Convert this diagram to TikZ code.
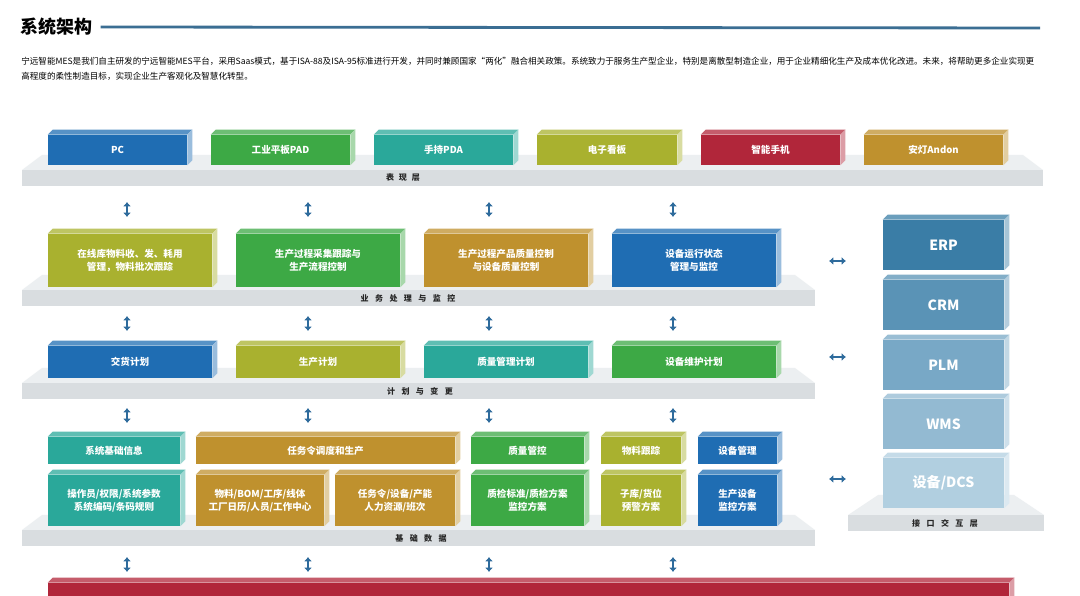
\documentclass[tikz,border=0pt]{standalone}
\usepackage{fontspec}
\setmainfont{Noto Sans CJK SC}
\usetikzlibrary{arrows.meta,fit}
\XeTeXlinebreaklocale "zh"
\XeTeXlinebreakskip=0pt plus 1pt

\definecolor{mesblue}{HTML}{1F6DB3}
\definecolor{mesgreen}{HTML}{3DA945}
\definecolor{mesteal}{HTML}{2AA89A}
\definecolor{mesolive}{HTML}{A9B12F}
\definecolor{mesred}{HTML}{B1263A}
\definecolor{mesgold}{HTML}{BF912E}
\definecolor{erpc}{HTML}{3A7DA6}
\definecolor{crmc}{HTML}{5A93B6}
\definecolor{plmc}{HTML}{78A8C6}
\definecolor{wmsc}{HTML}{93BAD2}
\definecolor{dcsc}{HTML}{B1CFE0}
\definecolor{slabtop}{HTML}{ECEFF1}
\definecolor{slabfront}{HTML}{D9DDE0}
\definecolor{arrowc}{HTML}{2E6B9C}
\definecolor{titleline}{HTML}{3B6E93}

\tikzset{
  block/.style={inner sep=0pt, text=white, align=center,
    font=\bfseries\fontsize{6.8}{9.6}\selectfont},
  bigblock/.style={block, font=\bfseries\fontsize{10}{12}\selectfont},
  slabtext/.style={inner sep=0pt, text=black!85,
    font=\bfseries\fontsize{5.7}{6}\selectfont},
  updown/.style={arrowc, line width=1.8pt,
    {Latex[length=1.1mm,width=2mm]}-{Latex[length=1.1mm,width=2mm]}}
}

% 3d box: name, style, colour, front corners, text
\newcommand{\mesblock}[6]{%
  \node[fill=#3, inner sep=0pt, fit={#4 #5}] (#1) {};
  \node[#2] (#1-t) at (#1.center) {#6};
  \fill[#3!75!white] (#1.north west) -- ++(5,-5)
    -- ([shift={(5,-5)}]#1.north east) -- (#1.north east) -- cycle;
  \fill[#3!45!white] (#1.north east) -- ++(5,-5)
    -- ([shift={(5,-5)}]#1.south east) -- (#1.south east) -- cycle;
}
% grey layer: name, left, right, top of front, inset, rise
\newcommand{\messlab}[6]{%
  \fill[slabtop] (#2,#4) -- (#2+#5,#4-#6) -- (#3-#5,#4-#6) -- (#3,#4) -- cycle;
  \node[fill=slabfront, inner sep=0pt, fit={(#2,#4) (#3,#4+16)}] (#1) {};
}

\begin{document}
\begin{tikzpicture}[x=0.025cm, y=-0.025cm]
\path[use as bounding box, fill=white] (0,0) rectangle (1080,596);
\clip (0,0) rectangle (1080,596);

% title and intro
\node[anchor=west, inner sep=0pt, font=\bfseries\fontsize{12.8}{14}\selectfont] (title) at (20,27) {系统架构};
\coordinate (titleend) at (1040,28);
\draw[titleline, line width=2pt] ([xshift=0.2cm]title.east) -- (titleend);
\node[anchor=west, inner sep=0pt, font=\fontsize{6.1}{7}\selectfont] (intro1) at (21,61)
  {\makebox[25.475cm][s]{宁远智能MES是我们自主研发的宁远智能MES平台，采用Saas模式，基于ISA-88及ISA-95标准进行开发，并同时兼顾国家“两化”融合相关政策。系统致力于服务生产型企业，特别是离散型制造企业，用于企业精细化生产及成本优化改进。未来，将帮助更多企业实现更}};
\node[anchor=west, inner sep=0pt, font=\fontsize{6.1}{7}\selectfont] (intro2) at (21,76)
  {高程度的柔性制造目标，实现企业生产客观化及智慧化转型。};

% layers
\messlab{layer1}{22}{1043}{170}{20}{15}
\messlab{layer2}{22}{815}{290}{20}{15}
\messlab{layer3}{22}{815}{383}{20}{15}
\messlab{layer4}{22}{815}{530}{20}{15}
\messlab{iface}{848}{1044}{515}{30}{20}
\node[slabtext] (layer1label) at (403,178) {表\hspace{0.6em}现\hspace{0.6em}层};
\node[slabtext] (layer2label) at (408,298) {业\hspace{0.8em}务\hspace{0.8em}处\hspace{0.8em}理\hspace{0.8em}与\hspace{0.8em}监\hspace{0.8em}控};
\node[slabtext] (layer3label) at (420,391) {计\hspace{0.8em}划\hspace{0.8em}与\hspace{0.8em}变\hspace{0.8em}更};
\node[slabtext] (layer4label) at (421,538) {基\hspace{0.8em}础\hspace{0.8em}数\hspace{0.8em}据};
\node[slabtext] (ifacelabel) at (945,523) {接\hspace{0.8em}口\hspace{0.8em}交\hspace{0.8em}互\hspace{0.8em}层};

% presentation
\mesblock{pc}{block}{mesblue}{(48,135)}{(187,165)}{PC}
\mesblock{pad}{block}{mesgreen}{(211,135)}{(350,165)}{工业平板PAD}
\mesblock{pda}{block}{mesteal}{(374,135)}{(513,165)}{手持PDA}
\mesblock{board}{block}{mesolive}{(537,135)}{(677,165)}{电子看板}
\mesblock{phone}{block}{mesred}{(701,135)}{(840,165)}{智能手机}
\mesblock{andon}{block}{mesgold}{(864,135)}{(1003,165)}{安灯Andon}

% business
\mesblock{stock}{block}{mesolive}{(48,234)}{(212,287)}{在线库物料收、发、耗用\\管理，物料批次跟踪}
\mesblock{collect}{block}{mesgreen}{(236,234)}{(400,287)}{生产过程采集跟踪与\\生产流程控制}
\mesblock{quality}{block}{mesgold}{(424,234)}{(588,287)}{生产过程产品质量控制\\与设备质量控制}
\mesblock{device}{block}{mesblue}{(612,234)}{(776,287)}{设备运行状态\\管理与监控}

% planning
\mesblock{delivery}{block}{mesblue}{(48,346)}{(212,378)}{交货计划}
\mesblock{prodplan}{block}{mesolive}{(236,346)}{(400,378)}{生产计划}
\mesblock{qcplan}{block}{mesteal}{(424,346)}{(588,378)}{质量管理计划}
\mesblock{maintplan}{block}{mesgreen}{(612,346)}{(776,378)}{设备维护计划}

% base data
\mesblock{sysinfo}{block}{mesteal}{(48,437)}{(180,464)}{系统基础信息}
\mesblock{dispatch}{block}{mesgold}{(196,437)}{(455,464)}{任务令调度和生产}
\mesblock{qctrl}{block}{mesgreen}{(471,437)}{(584,464)}{质量管控}
\mesblock{mattrack}{block}{mesolive}{(601,437)}{(681,464)}{物料跟踪}
\mesblock{devmgr}{block}{mesblue}{(698,437)}{(777,464)}{设备管理}
\mesblock{operator}{block}{mesteal}{(48,475)}{(180,526)}{操作员/权限/系统参数\\系统编码/条码规则}
\mesblock{material}{block}{mesgold}{(196,475)}{(324,526)}{物料/BOM/工序/线体\\工厂日历/人员/工作中心}
\mesblock{order}{block}{mesgold}{(335,475)}{(455,526)}{任务令/设备/产能\\人力资源/班次}
\mesblock{qcstd}{block}{mesgreen}{(471,475)}{(584,526)}{质检标准/质检方案\\监控方案}
\mesblock{storage}{block}{mesolive}{(601,475)}{(681,526)}{子库/货位\\预警方案}
\mesblock{devmon}{block}{mesblue}{(698,475)}{(777,526)}{生产设备\\监控方案}

% bottom bar
\mesblock{base}{block}{mesred}{(48,583)}{(1009,610)}{}

% interfaces
\mesblock{erp}{bigblock}{erpc}{(883,220)}{(1004,270)}{ERP}
\mesblock{crm}{bigblock}{crmc}{(883,280)}{(1004,330)}{CRM}
\mesblock{plm}{bigblock}{plmc}{(883,340)}{(1004,390)}{PLM}
\mesblock{wms}{bigblock}{wmsc}{(883,399)}{(1004,449)}{WMS}
\mesblock{dcs}{bigblock}{dcsc}{(883,458)}{(1004,508)}{设备/DCS}

% arrows
\foreach \y [count=\j] in {202,316,408,557} {
  \foreach \x [count=\i] in {127,308,489,673} {
    \coordinate (up\j\i) at (\x,\y);
    \coordinate (dn\j\i) at (\x,\y+15);
    \draw[updown] (up\j\i) -- (dn\j\i);
  }
}
\foreach \y [count=\i] in {261,357,479} {
  \coordinate (lt\i) at (829,\y);
  \coordinate (rt\i) at (846,\y);
  \draw[updown] (lt\i) -- (rt\i);
}
\end{tikzpicture}
\end{document}
